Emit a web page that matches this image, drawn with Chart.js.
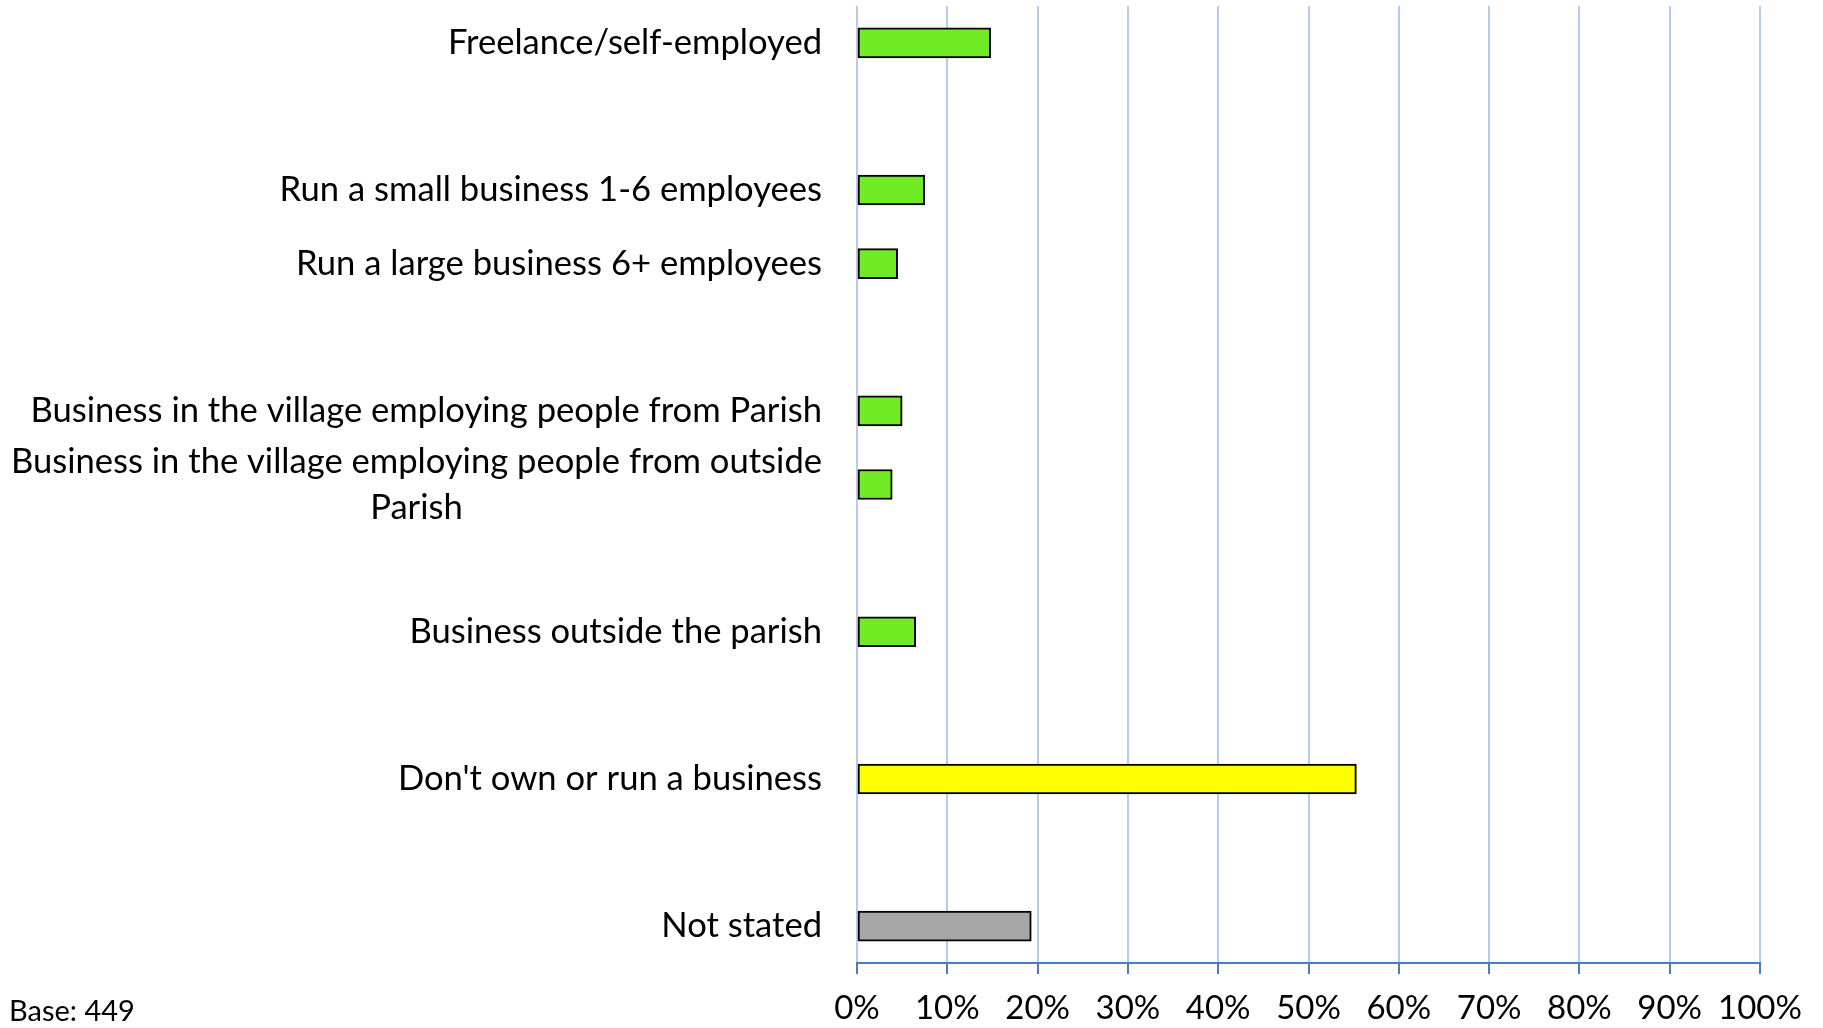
<!DOCTYPE html>
<html>
<head>
<meta charset="utf-8">
<script src="https://cdn.jsdelivr.net/npm/chart.js@4.4.0/dist/chart.umd.min.js"></script>
<style>
  html, body { margin: 0; padding: 0; background: #fff; }
  #wrap { position: relative; width: 1823px; height: 1028px; }
  #base { position: absolute; left: 9px; top: 993px; font: 29px Lato, sans-serif; color: #000; line-height: 34px; }
</style>
</head>
<body>
<div id="wrap">
  <canvas id="grafica" width="1823" height="1028"></canvas>
  <div id="base">Base: 449</div>
</div>
<script>
// Filas vacías ("") dejan los huecos entre grupos, como en el original.
const categorias = [
  "Freelance/self-employed",
  "",
  "Run a small business 1-6 employees",
  "Run a large business 6+ employees",
  "",
  "Business in the village employing people from Parish",
  ["Business in the village employing people from outside", "Parish"],
  "",
  "Business outside the parish",
  "",
  "Don't own or run a business",
  "",
  "Not stated",
];
const porcentajes = [14.8, null, 7.5, 4.5, null, 5.0, 3.9, null, 6.5, null, 55.3, null, 19.3];
const coloresBarras = [
  "#72eb27", null, "#72eb27", "#72eb27", null, "#72eb27", "#72eb27", null,
  "#72eb27", null, "#ffff00", null, "#a6a6a6",
];
const EJE_MIN = 0;
const EJE_MAX = 100;
const PASO = 10;

const FUENTE = "Lato, 'Open Sans', sans-serif";
const LABEL_SIZE = 34.6;
const LINE_HEIGHT = 46;
const LABEL_GAP = 35;

// Etiquetas del eje Y dibujadas a mano: bloque alineado a la derecha,
// líneas centradas dentro del bloque (como hace Excel).
const etiquetasY = {
  id: "etiquetasY",
  afterDraw(chart) {
    const { ctx, chartArea, scales } = chart;
    ctx.save();
    ctx.font = `${LABEL_SIZE}px ${FUENTE}`;
    ctx.fillStyle = "#000";
    ctx.textAlign = "center";
    ctx.textBaseline = "middle";
    categorias.forEach((cat, i) => {
      const lineas = Array.isArray(cat) ? cat : [cat];
      if (!lineas[0]) return;
      const ancho = Math.max(...lineas.map((l) => ctx.measureText(l).width));
      const cx = chartArea.left - LABEL_GAP - ancho / 2;
      const cy = scales.y.getPixelForValue(i);
      const top = cy - ((lineas.length - 1) * LINE_HEIGHT) / 2;
      lineas.forEach((l, j) => ctx.fillText(l, cx, top + j * LINE_HEIGHT));
    });
    ctx.restore();
  },
};

new Chart(document.getElementById("grafica"), {
  type: "bar",
  data: {
    labels: categorias,
    datasets: [{
      data: porcentajes,
      backgroundColor: coloresBarras,
      borderColor: "#000",
      borderWidth: 2,
      borderSkipped: false,
      barThickness: 30,
    }],
  },
  options: {
    indexAxis: "y",
    responsive: false,
    animation: false,
    devicePixelRatio: 1,
    layout: { padding: { top: 6, right: 63, bottom: 0, left: 0 } },
    plugins: { legend: { display: false }, tooltip: { enabled: false } },
    scales: {
      x: {
        min: EJE_MIN,
        max: EJE_MAX,
        ticks: {
          stepSize: PASO,
          color: "#000",
          font: { family: FUENTE, size: 33 },
          padding: 15,
          callback: (v) => `${v}%`,
        },
        grid: {
          color: "#b7cbeb",
          lineWidth: 2,
          tickColor: "#4a7ebb",
          tickLength: 11,
        },
        border: { color: "#4a7ebb", width: 2 },
        afterFit: (scale) => { scale.height = 65; },
      },
      y: {
        ticks: { display: false },
        grid: { display: false },
        border: { display: false },
        afterFit: (scale) => { scale.width = 857; },
      },
    },
  },
  plugins: [etiquetasY],
});
</script>
</body>
</html>
